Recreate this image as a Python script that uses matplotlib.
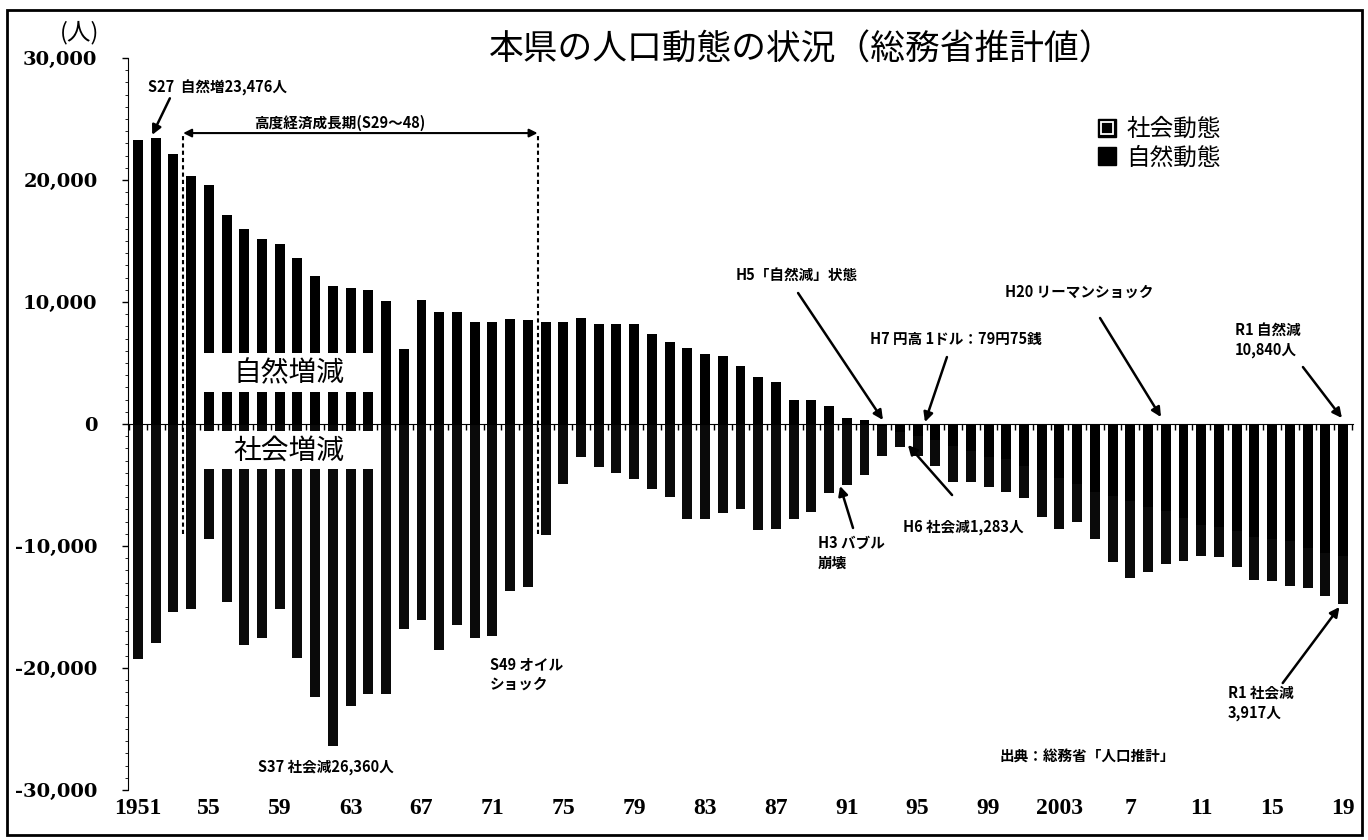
# 本県の人口動態の状況（総務省推計値）
import numpy as np
import matplotlib
matplotlib.use('Agg')
import matplotlib.pyplot as plt
from matplotlib.patches import Rectangle
from matplotlib.lines import Line2D
from matplotlib.legend_handler import HandlerTuple
from matplotlib.ticker import MultipleLocator, FuncFormatter

# データ
years = np.arange(1951, 2020)
natural = [23300, 23476, 22100, 20300, 19560, 17100, 16000, 15200, 14750, 13600,
           12100, 11350, 11150, 11000, 10100, 6150, 10200, 9180, 9150, 8350,
           8350, 8650, 8500, 8350, 8380, 8680, 8230, 8230, 8230, 7350,
           6720, 6240, 5780, 5600, 4760, 3820, 3460, 2000, 2000, 1500,
           480, 330, -130, -617, -1000, -1300, -1800, -2200, -2700, -2900,
           -3400, -3800, -4400, -4900, -5600, -5900, -6300, -6800, -7100, -7700,
           -8300, -8400, -8800, -9300, -9400, -9600, -10200, -10600, -10840]
social = [-19260, -17940, -15370, -15200, -9430, -14560, -18110, -17500, -15200, -19190,
          -22400, -26360, -23080, -22140, -22140, -16810, -16030, -18500, -16460, -17540,
          -17380, -13710, -13380, -9110, -4900, -2690, -3540, -4000, -4490, -5300,
          -5960, -7750, -7750, -7260, -6940, -8720, -8570, -7800, -7250, -5650,
          -5000, -4170, -2480, -1283, -1580, -2150, -2960, -2560, -2470, -2650,
          -2640, -3820, -4170, -3100, -3800, -5400, -6300, -5300, -4400, -3500,
          -2500, -2500, -2900, -3500, -3500, -3700, -3200, -3500, -3917]
label_years = [1951, 1955, 1959, 1963, 1967, 1971, 1975, 1979, 1983, 1987,
               1991, 1995, 1999, 2003, 2007, 2011, 2015, 2019]
label_text = ['1951', '55', '59', '63', '67', '71', '75', '79', '83', '87',
              '91', '95', '99', '2003', '7', '11', '15', '19']

plt.rcParams['font.family'] = ['Noto Sans CJK JP', 'DejaVu Sans']

fig = plt.figure(figsize=(13.68, 8.4), dpi=100)
ax = fig.add_axes([0.0936, 0.0595, 0.8955, 0.8714])

nat = np.array(natural)
soc = np.array(social)
soc_bottom = np.where(nat < 0, nat, 0)

ax.bar(years, nat, width=0.56, color='black', linewidth=0, zorder=2)
ax.bar(years, soc, bottom=soc_bottom, width=0.56, color='#0a0a0a', linewidth=0, zorder=2)

ax.set_xlim(1950.44, 2019.57)
ax.set_ylim(-30000, 30000)

# 軸
ax.spines['top'].set_visible(False)
ax.spines['right'].set_visible(False)
ax.spines['bottom'].set_position(('data', 0))
ax.spines['bottom'].set_zorder(5)
ax.set_xticks(np.arange(years[0] - 0.5, years[-1] + 1))
ax.set_xticklabels([])
ax.tick_params(axis='x', direction='out', length=4, width=1)

ax.set_yticks(np.arange(-30000, 30001, 10000))
ax.yaxis.set_major_formatter(FuncFormatter(lambda v, p: f'{int(v):,}'))
ax.yaxis.set_minor_locator(MultipleLocator(1000))
ax.tick_params(axis='y', which='major', direction='out', length=4, width=1, pad=18)
ax.tick_params(axis='y', which='minor', direction='out', length=2, width=0.6)
for lab in ax.get_yticklabels():
    lab.set_fontfamily('DejaVu Serif')
    lab.set_fontweight('bold')
    lab.set_fontsize(14)

for yr, txt in zip(label_years, label_text):
    ax.text(yr, -0.025, txt, transform=ax.get_xaxis_transform(), ha='center', va='center',
            fontsize=17, family='Liberation Serif', fontweight='bold')

fig.text(0.0585, 0.961, '(人)', ha='center', va='center', fontsize=17)
fig.text(0.586, 0.94, '本県の人口動態の状況（総務省推計値）', ha='center', va='center', fontsize=25)

# 凡例
h_soc = (Line2D([], [], marker='s', ls='none', ms=13, color='black'),
         Line2D([], [], marker='s', ls='none', ms=8, mfc='black', mec='white', mew=1.3))
h_nat = Line2D([], [], marker='s', ls='none', ms=13, color='black')
ax.legend([h_soc, h_nat], ['社会動態', '自然動態'], loc='upper left', frameon=False,
          bbox_to_anchor=(0.787, 0.885), bbox_transform=fig.transFigure, fontsize=17,
          handler_map={tuple: HandlerTuple(ndivide=1)},
          handlelength=0.8, handletextpad=0.4, labelspacing=0.25)

# 自然増減・社会増減のラベル
ax.add_patch(Rectangle((1954.6, 2620), 9.8, 3200, facecolor='white', edgecolor='none', zorder=3))
ax.add_patch(Rectangle((1954.6, -3690), 9.8, 3120, facecolor='white', edgecolor='none', zorder=3))
ax.text(1959.5, 4200, '自然増減', ha='center', va='center', fontsize=20, zorder=4)
ax.text(1959.5, -2150, '社会増減', ha='center', va='center', fontsize=20, zorder=4)

# 注記
arrow = dict(arrowstyle='-|>', color='black', lw=1.8, mutation_scale=14, shrinkA=0, shrinkB=0)
note = dict(fontsize=10.5, fontweight='bold', va='center', zorder=6)

ax.text(1951.56, 27540, 'S27  自然増23,476人', ha='left', **note)
ax.annotate('', xy=(1951.8, 23700), xytext=(1952.8, 26700), arrowprops=arrow)

ax.text(1962.4, 24700, '高度経済成長期(S29～48)', ha='center', **note)
ax.annotate('', xy=(1953.55, 23850), xytext=(1973.55, 23850),
            arrowprops=dict(arrowstyle='<|-|>', color='black', lw=1.5, mutation_scale=12,
                            shrinkA=0, shrinkB=0))
ax.vlines([1953.55, 1973.55], -9000, 23850, colors='black', linewidth=1.5,
          linestyles=(0, (2, 1.5)), zorder=4)

ax.text(1988.2, 12210, 'H5「自然減」状態', ha='center', **note)
ax.annotate('', xy=(1993.04, 330), xytext=(1988.25, 10740), arrowprops=arrow)

ax.text(1992.3, 6970, 'H7 円高 1ドル：79円75銭', ha='left', **note)
ax.annotate('', xy=(1995.41, 160), xytext=(1996.65, 5490), arrowprops=arrow)

ax.text(1999.93, 10820, 'H20 リーマンショック', ha='left', **note)
ax.annotate('', xy=(2008.73, 570), xytext=(2005.29, 8690), arrowprops=arrow)

ax.text(2012.9, 6900, 'R1 自然減\n10,840人', ha='left', linespacing=1.3, **note)
ax.annotate('', xy=(2018.94, 490), xytext=(2016.74, 4670), arrowprops=arrow)

ax.text(1989.37, -10570, 'H3 バブル\n崩壊', ha='left', linespacing=1.3, **note)
ax.annotate('', xy=(1990.62, -5080), xytext=(1991.35, -8520), arrowprops=arrow)

ax.text(1994.17, -8440, 'H6 社会減1,283人', ha='left', **note)
ax.annotate('', xy=(1994.45, -1720), xytext=(1996.94, -5820), arrowprops=arrow)

ax.text(1970.86, -20490, 'S49 オイル\nショック', ha='left', linespacing=1.3, **note)
ax.text(1957.77, -28110, 'S37 社会減26,360人', ha='left', **note)

ax.text(2012.5, -22870, 'R1 社会減\n3,917人', ha='left', linespacing=1.3, **note)
ax.annotate('', xy=(2018.8, -15000), xytext=(2015.6, -21230), arrowprops=arrow)

ax.text(1999.6, -27300, '出典：総務省「人口推計」', ha='left', **note)

# 外枠
fig.patches.append(Rectangle((0.005, 0.006), 0.9905, 0.982, transform=fig.transFigure,
                             fill=False, edgecolor='black', linewidth=2))

fig.savefig('out.png', dpi=100)
